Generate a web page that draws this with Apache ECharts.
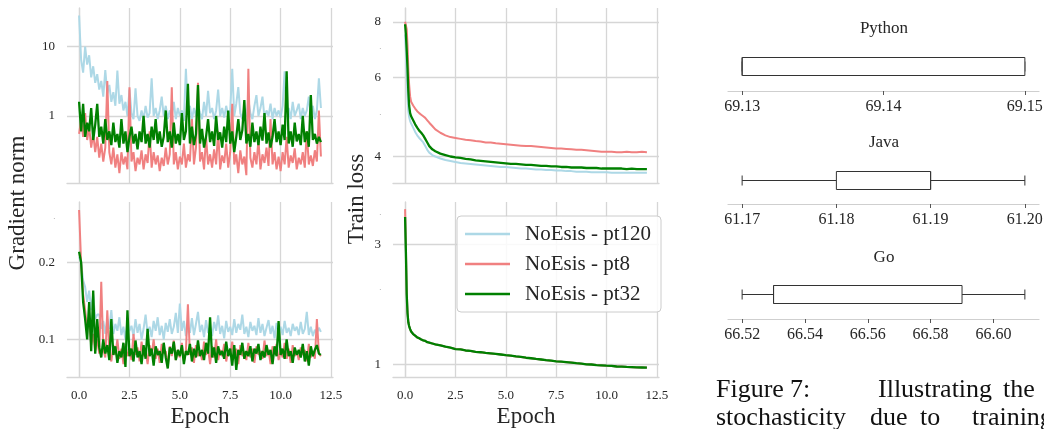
<!DOCTYPE html>
<html>
<head>
<meta charset="utf-8">
<script src="https://cdn.jsdelivr.net/npm/echarts@6/dist/echarts.min.js"></script>
<style>
html,body{margin:0;padding:0;background:#fff;}
#chart{width:1044px;height:429px;}
</style>
</head>
<body>
<div id="chart"></div>
<script>
// ---------------- DATA ----------------
const seriesNames = ['NoEsis - pt120', 'NoEsis - pt8', 'NoEsis - pt32'];
const xTickLabels = [0, 2.5, 5, 7.5, 10, 12.5];

// Gradient-norm x positions (epochs)
const gnEpochs = [0,0.1,0.2,0.3,0.4,0.5,0.6,0.7,0.8,0.9,1,1.1,1.2,1.3,1.4,1.5,1.6,1.7,1.8,1.9,2,2.1,2.2,2.3,2.4,2.5,2.6,2.7,2.8,2.9,3,3.1,3.2,3.3,3.4,3.5,3.6,3.7,3.8,3.9,4,4.1,4.2,4.3,4.4,4.5,4.6,4.7,4.8,4.9,5,5.1,5.2,5.3,5.4,5.5,5.6,5.7,5.8,5.9,6,6.1,6.2,6.3,6.4,6.5,6.6,6.7,6.8,6.9,7,7.1,7.2,7.3,7.4,7.5,7.6,7.7,7.8,7.9,8,8.1,8.2,8.3,8.4,8.5,8.6,8.7,8.8,8.9,9,9.1,9.2,9.3,9.4,9.5,9.6,9.7,9.8,9.9,10,10.1,10.2,10.3,10.4,10.5,10.6,10.7,10.8,10.9,11,11.1,11.2,11.3,11.4,11.5,11.6,11.7,11.8,11.9,12];

// Top-left: gradient norm (log scale, large)
const gnTopPt120 = [28,6.5,4.2,10,5.5,7.5,3.6,5.2,3.0,4.0,
 2.4,3.2,1.9,4.6,2.1,2.8,1.6,2.2,1.4,4.5,
 1.5,2.0,1.2,1.6,1.0,2.4,1.1,0.9,2.5,1.0,
 0.85,1.2,0.9,1.4,0.95,1.1,3.5,1.0,1.3,0.9,
 1.2,1.9,1.0,1.4,0.9,1.2,1.0,1.6,0.9,1.3,
 1.0,1.2,0.85,4.8,1.1,1.4,0.9,1.3,1.0,1.5,
 1.1,0.9,1.6,1.0,2.3,1.1,1.3,0.9,1.2,2.4,
 1.0,1.3,0.95,1.4,1.0,1.2,4.8,1.0,1.5,2.6,
 1.1,0.9,1.3,1.0,1.7,1.1,0.9,1.4,2.0,1.0,
 1.3,1.9,0.95,1.2,1.0,1.5,0.9,1.3,1.0,1.2,
 0.95,1.4,4.4,1.1,1.3,0.9,1.6,1.0,1.2,1.5,
 0.9,1.3,1.0,1.2,1.9,1.0,1.4,0.9,1.2,3.5,
 1.3];
const gnTopPt8 = [0.55,0.9,0.5,1.1,0.45,0.7,0.35,0.55,0.3,0.5,
 0.25,0.4,0.22,0.35,3.2,0.3,0.2,0.35,0.18,0.28,
 0.15,0.3,0.2,0.26,0.17,2.6,0.22,0.3,0.16,0.25,
 0.2,0.32,0.17,0.28,0.21,0.6,0.18,0.3,0.2,0.27,
 0.16,0.25,0.19,0.35,0.2,0.28,2.6,0.2,0.3,0.17,
 0.26,0.2,0.4,0.18,0.28,0.22,0.9,0.2,0.35,3.0,
 0.22,0.3,0.17,0.5,0.2,0.28,0.18,0.33,0.2,0.6,
 0.17,0.27,0.21,0.4,0.18,0.3,1.5,0.2,0.28,0.15,
 0.32,0.2,0.26,0.14,4.8,0.25,0.18,0.3,0.2,0.45,
 0.17,0.28,0.21,0.35,0.19,0.9,0.2,0.3,0.17,0.26,
 0.16,0.3,0.2,0.5,0.18,0.27,0.21,0.34,0.17,0.25,
 0.2,0.3,0.18,0.6,0.2,0.27,0.19,0.32,0.22,1.2,
 0.26];
const gnTopPt32 = [1.6,0.6,1.5,0.5,0.8,0.6,1.3,0.45,0.75,1.5,
 0.5,0.7,0.4,0.9,0.45,0.6,0.38,0.8,0.42,0.55,
 0.35,0.9,0.4,0.6,0.3,0.5,0.7,0.4,0.55,0.33,
 0.6,0.42,1.0,0.4,0.55,0.35,0.7,0.45,0.9,0.4,
 0.6,0.36,0.5,1.2,0.42,0.6,0.35,0.8,0.4,0.55,
 0.38,1.1,0.45,0.6,2.9,0.4,0.7,0.38,0.55,2.8,
 0.4,0.65,0.35,0.5,0.9,0.42,0.6,0.37,1.0,0.45,
 0.58,0.35,0.7,0.42,1.2,0.4,0.6,0.3,0.5,0.9,
 0.45,0.62,1.7,0.4,0.55,0.36,0.8,0.42,0.6,0.38,
 0.7,0.44,1.1,0.4,0.58,0.35,0.5,0.9,0.42,0.6,
 0.38,0.75,0.45,4.4,0.4,0.6,0.36,0.8,0.43,0.55,
 0.38,1.0,0.42,0.6,0.36,2.0,0.45,0.55,0.4,0.5,
 0.42];

// Bottom-left: gradient norm (log scale, small)
const gnBotPt120 = [0.21,0.2,0.17,0.16,0.14,0.155,0.13,0.15,0.12,0.125,
 0.125,0.11,0.118,0.105,0.12,0.11,0.13,0.105,0.115,0.108,
 0.122,0.104,0.112,0.1,0.118,0.108,0.113,0.103,0.12,0.106,
 0.115,0.1,0.11,0.125,0.105,0.112,0.102,0.118,0.108,0.122,
 0.104,0.113,0.1,0.116,0.107,0.12,0.105,0.112,0.127,0.106,
 0.138,0.108,0.118,0.103,0.112,0.106,0.121,0.104,0.115,0.128,
 0.107,0.114,0.102,0.119,0.106,0.112,0.103,0.117,0.108,0.124,
 0.105,0.113,0.101,0.118,0.107,0.112,0.104,0.12,0.106,0.115,
 0.109,0.125,0.105,0.112,0.102,0.117,0.108,0.113,0.104,0.121,
 0.106,0.115,0.103,0.111,0.119,0.105,0.113,0.101,0.116,0.107,
 0.112,0.104,0.118,0.106,0.111,0.103,0.115,0.108,0.112,0.104,
 0.117,0.105,0.11,0.128,0.104,0.112,0.103,0.109,0.106,0.111,
 0.107];
const gnBotPt8 = [0.32,0.2,0.15,0.13,0.11,0.12,0.095,0.105,0.09,0.1,
 0.088,0.168,0.092,0.085,0.13,0.09,0.082,0.095,0.087,0.1,
 0.084,0.092,0.08,0.096,0.086,0.09,0.083,0.105,0.087,0.093,
 0.082,0.098,0.086,0.091,0.08,0.095,0.087,0.1,0.084,0.092,
 0.081,0.096,0.088,0.09,0.078,0.094,0.086,0.099,0.083,0.091,
 0.085,0.097,0.082,0.09,0.137,0.087,0.093,0.081,0.095,0.086,
 0.09,0.083,0.098,0.087,0.092,0.08,0.094,0.085,0.1,0.083,
 0.091,0.086,0.096,0.082,0.09,0.087,0.098,0.084,0.092,0.08,
 0.095,0.086,0.09,0.083,0.097,0.085,0.092,0.081,0.094,0.087,
 0.09,0.084,0.099,0.086,0.091,0.08,0.094,0.087,0.096,0.083,
 0.09,0.085,0.097,0.084,0.092,0.081,0.095,0.086,0.09,0.083,
 0.093,0.087,0.091,0.082,0.096,0.085,0.09,0.084,0.12,0.088,
 0.086];
const gnBotPt32 = [0.22,0.2,0.14,0.12,0.1,0.14,0.09,0.155,0.088,0.12,
 0.093,0.085,0.1,0.088,0.095,0.083,0.12,0.087,0.094,0.081,
 0.09,0.085,0.097,0.078,0.13,0.086,0.092,0.082,0.099,0.085,
 0.09,0.08,0.095,0.084,0.11,0.086,0.092,0.079,0.094,0.087,
 0.09,0.081,0.097,0.085,0.077,0.093,0.088,0.098,0.083,0.091,
 0.086,0.095,0.08,0.09,0.087,0.096,0.082,0.092,0.085,0.099,
 0.086,0.091,0.083,0.097,0.088,0.122,0.085,0.093,0.081,0.094,
 0.087,0.09,0.084,0.098,0.086,0.092,0.079,0.095,0.076,0.091,
 0.087,0.097,0.084,0.09,0.086,0.094,0.082,0.092,0.088,0.096,
 0.083,0.09,0.085,0.095,0.087,0.091,0.08,0.094,0.086,0.118,
 0.087,0.092,0.084,0.1,0.086,0.09,0.081,0.093,0.087,0.091,
 0.085,0.096,0.082,0.09,0.079,0.094,0.086,0.091,0.095,0.088,
 0.087];

// Train-loss x positions (epochs)
const lossEpochs = [0,0.04,0.08,0.12,0.16,0.2,0.25,0.3,0.4,0.5,
 0.6,0.7,0.8,0.9,1,1.1,1.2,1.35,1.5,1.75,
 2,2.25,2.5,2.75,3,3.25,3.5,3.75,4,4.25,
 4.5,4.75,5,5.25,5.5,5.75,6,6.25,6.5,6.75,
 7,7.25,7.5,7.75,8,8.25,8.5,8.75,9,9.25,
 9.5,9.75,10,10.25,10.5,10.75,11,11.25,11.5,11.75,
 12];
// Top-right: train loss
const lossTopPt120 = [7.5,6.9,6.2,5.5,5.05,4.9,4.8,4.74,4.64,4.54,
 4.46,4.4,4.35,4.3,4.22,4.14,4.08,4.03,4.0,3.96,
 3.93,3.91,3.89,3.87,3.86,3.85,3.84,3.83,3.82,3.81,
 3.8,3.79,3.79,3.78,3.77,3.76,3.76,3.75,3.74,3.74,
 3.73,3.73,3.72,3.72,3.71,3.71,3.7,3.7,3.7,3.69,
 3.69,3.69,3.69,3.68,3.68,3.68,3.68,3.68,3.68,3.68,
 3.68];
const lossTopPt8 = [8.0,7.95,7.7,7.1,6.3,5.8,5.45,5.3,5.2,5.12,
 5.05,5.0,4.96,4.92,4.88,4.82,4.76,4.68,4.6,4.52,
 4.46,4.42,4.4,4.38,4.36,4.35,4.33,4.32,4.3,4.3,
 4.28,4.27,4.26,4.25,4.24,4.23,4.22,4.22,4.21,4.2,
 4.19,4.18,4.17,4.17,4.16,4.15,4.14,4.14,4.13,4.12,
 4.11,4.1,4.1,4.1,4.09,4.09,4.1,4.09,4.09,4.1,
 4.09];
const lossTopPt32 = [7.9,7.5,6.9,6.3,5.6,5.2,5.0,4.92,4.82,4.72,
 4.64,4.57,4.52,4.46,4.38,4.3,4.22,4.15,4.11,4.06,
 4.03,4.0,3.98,3.97,3.95,3.94,3.92,3.91,3.9,3.89,
 3.88,3.87,3.86,3.85,3.85,3.84,3.83,3.83,3.82,3.81,
 3.81,3.8,3.8,3.79,3.79,3.78,3.78,3.78,3.77,3.77,
 3.77,3.76,3.76,3.76,3.76,3.76,3.75,3.76,3.75,3.75,
 3.75];
// Bottom-right: train loss
const lossBotPt120 = [3.7,2.75,1.88,1.6,1.47,1.42,1.38,1.35,1.32,1.3,
 1.28,1.27,1.255,1.245,1.24,1.226,1.22,1.21,1.2,1.19,
 1.176,1.165,1.15,1.147,1.136,1.13,1.12,1.117,1.11,1.105,
 1.1,1.094,1.087,1.082,1.076,1.07,1.062,1.057,1.05,1.045,
 1.038,1.034,1.028,1.024,1.02,1.016,1.01,1.006,1.0,0.998,
 0.993,0.99,0.987,0.985,0.98,0.979,0.976,0.974,0.972,0.971,
 0.97];
const lossBotPt8 = [4.15,2.9,1.95,1.62,1.48,1.42,1.38,1.35,1.32,1.3,
 1.28,1.27,1.255,1.245,1.24,1.225,1.22,1.21,1.2,1.19,
 1.175,1.165,1.15,1.147,1.135,1.13,1.12,1.117,1.11,1.105,
 1.1,1.094,1.087,1.082,1.075,1.07,1.062,1.057,1.05,1.045,
 1.038,1.034,1.028,1.024,1.02,1.016,1.01,1.006,1.0,0.998,
 0.993,0.99,0.987,0.985,0.98,0.979,0.976,0.974,0.972,0.971,
 0.97];
const lossBotPt32 = [3.86,2.8,1.9,1.6,1.47,1.42,1.38,1.35,1.32,1.3,
 1.28,1.27,1.255,1.245,1.24,1.225,1.22,1.21,1.2,1.19,
 1.175,1.165,1.15,1.147,1.135,1.13,1.12,1.117,1.11,1.105,
 1.1,1.094,1.087,1.082,1.075,1.07,1.062,1.057,1.05,1.045,
 1.038,1.034,1.028,1.024,1.02,1.016,1.01,1.006,1.0,0.998,
 0.993,0.99,0.987,0.985,0.98,0.979,0.976,0.974,0.972,0.971,
 0.97];

// Box plots: [min, Q1, median, Q3, max]
const boxTitles = ['Python', 'Java', 'Go'];
const pythonBox = [69.13, 69.13, 69.13, 69.15, 69.15];
const javaBox = [61.17, 61.18, 61.19, 61.19, 61.20];
const goBox = [66.52, 66.53, 66.53, 66.59, 66.61];
const pythonTicks = [69.13, 69.14, 69.15];
const javaTicks = [61.17, 61.18, 61.19, 61.20];
const goTicks = [66.52, 66.54, 66.56, 66.58, 66.60];

const captionLine1 = ['Figure', '7:', 'Illustrating', 'the'];
const captionLine2 = ['stochasticity', 'due', 'to', 'training'];

// ---------------- STYLE ----------------
const FONT = "'Liberation Serif','Times New Roman',serif";
const GRID_C = '#d6d6d6';
const TXT = '#262626';
const COL = ['#add8e6', '#f08080', '#008000'];
const LW = [2, 2, 2.3];

function pairs(xs, ys) { return xs.map((x, i) => [x, ys[i]]); }

function lineX(gi, showLabels) {
  return {
    type: 'value', gridIndex: gi, min: -0.6, max: 12.6,
    axisLine: { show: true, lineStyle: { color: GRID_C, width: 1.3 } },
    axisTick: { show: false, customValues: xTickLabels },
    axisLabel: { show: showLabels, customValues: xTickLabels, formatter: v => v.toFixed(1),
      fontFamily: FONT, fontSize: 13, color: TXT, margin: 12 },
    splitLine: { show: true, lineStyle: { color: GRID_C, width: 1.3 } }
  };
}
function logY(gi, min, max, majors, labels) {
  return {
    type: 'log', logBase: 10, gridIndex: gi, min: min, max: max,
    axisLine: { show: true, lineStyle: { color: GRID_C, width: 1.3 } },
    axisTick: { show: false, customValues: majors },
    axisLabel: {
      customValues: labels, fontFamily: FONT, fontSize: 13, color: TXT, margin: 12,
      formatter: v => {
        const m = majors.find(t => Math.abs(t - v) / t < 1e-6);
        return m !== undefined ? String(m) : '{m|.}';
      },
      rich: { m: { fontSize: 6, color: '#777' } }
    },
    splitLine: { show: true, lineStyle: { color: GRID_C, width: 1.3 } },
    minorTick: { show: false }, minorSplitLine: { show: false }
  };
}
function boxX(gi, min, max, ticks) {
  return {
    type: 'value', gridIndex: gi, min: min, max: max,
    axisLine: { show: true, lineStyle: { color: '#cfcfcf', width: 1.2 } },
    axisTick: { show: true, customValues: ticks, length: 4, lineStyle: { color: '#555', width: 1 } },
    axisLabel: { customValues: ticks, formatter: v => v.toFixed(2), fontFamily: FONT, fontSize: 16,
      color: TXT, margin: 8 },
    splitLine: { show: false }
  };
}
function boxY(gi, name) {
  return { type: 'category', gridIndex: gi, data: [name], show: false };
}

const panels = [
  { x: 0, y: 0, data: [gnTopPt120, gnTopPt8, gnTopPt32], xs: gnEpochs },
  { x: 1, y: 1, data: [gnBotPt120, gnBotPt8, gnBotPt32], xs: gnEpochs },
  { x: 2, y: 2, data: [lossTopPt120, lossTopPt8, lossTopPt32], xs: lossEpochs },
  { x: 3, y: 3, data: [lossBotPt120, lossBotPt8, lossBotPt32], xs: lossEpochs }
];
const series = [];
panels.forEach(p => {
  p.data.forEach((ys, k) => {
    series.push({
      type: 'line', name: seriesNames[k], xAxisIndex: p.x, yAxisIndex: p.y,
      data: pairs(p.xs, ys), showSymbol: false, symbol: 'none',
      lineStyle: { color: COL[k], width: LW[k] }, itemStyle: { color: COL[k] },
      silent: true, z: 2 + k
    });
  });
});

// Box plot drawn through the axes' scales (custom series)
const BOX_H = 18, CAP_H = 10, BOX_STROKE = '#333333';
function renderBox(params, api) {
  const c = api.value(5);
  const pMin = api.coord([api.value(0), c]);
  const pQ1 = api.coord([api.value(1), c]);
  const pMed = api.coord([api.value(2), c]);
  const pQ3 = api.coord([api.value(3), c]);
  const pMax = api.coord([api.value(4), c]);
  const cy = Math.round(pMin[1]) + 0.5;
  const st = { stroke: BOX_STROKE, lineWidth: 1, fill: null };
  return {
    type: 'group', children: [
      { type: 'line', shape: { x1: pMin[0], y1: cy, x2: pQ1[0], y2: cy }, style: st },
      { type: 'line', shape: { x1: pQ3[0], y1: cy, x2: pMax[0], y2: cy }, style: st },
      { type: 'line', shape: { x1: pMin[0], y1: cy - CAP_H / 2, x2: pMin[0], y2: cy + CAP_H / 2 }, style: st },
      { type: 'line', shape: { x1: pMax[0], y1: cy - CAP_H / 2, x2: pMax[0], y2: cy + CAP_H / 2 }, style: st },
      { type: 'rect', shape: { x: pQ1[0], y: cy - BOX_H / 2, width: pQ3[0] - pQ1[0], height: BOX_H },
        style: { fill: '#ffffff', stroke: BOX_STROKE, lineWidth: 1 } },
      { type: 'line', shape: { x1: pMed[0], y1: cy - BOX_H / 2, x2: pMed[0], y2: cy + BOX_H / 2 }, style: st }
    ]
  };
}
[pythonBox, javaBox, goBox].forEach((b, i) => {
  series.push({
    type: 'custom', xAxisIndex: 4 + i, yAxisIndex: 4 + i, silent: true,
    data: [b.concat([0])], encode: { x: [0, 1, 2, 3, 4], y: 5 },
    renderItem: renderBox
  });
});

const txt = (text, x, y, size, extra) => Object.assign({
  type: 'text', x: x, y: y, silent: true,
  style: { text: text, fontFamily: FONT, fontSize: size, fill: TXT, align: 'center', verticalAlign: 'middle' }
}, extra || {});

const cap1X = [716, 790, 878, 1003];
const cap2X = [716, 870, 920, 972];
const graphics = [
  txt('Gradient norm', 18, 203, 23, { rotation: Math.PI / 2 }),
  txt('Train loss', 357, 199, 23, { rotation: Math.PI / 2 }),
  txt('Epoch', 200, 417, 23),
  txt('Epoch', 526, 417, 23),
  txt(boxTitles[0], 884, 29, 17),
  txt(boxTitles[1], 884, 143, 17),
  txt(boxTitles[2], 884, 258, 17)
];
captionLine1.forEach((w, i) => {
  const g = txt(w, cap1X[i], 390, 26); g.style.align = 'left'; g.style.fill = '#111'; graphics.push(g);
});
captionLine2.forEach((w, i) => {
  const g = txt(w, cap2X[i], 418, 26); g.style.align = 'left'; g.style.fill = '#111'; graphics.push(g);
});

const option = {
  animation: false,
  backgroundColor: '#ffffff',
  grid: [
    { left: 67, top: 8, width: 266, height: 175, outerBoundsMode: 'none' },
    { left: 67, top: 202, width: 266, height: 175, outerBoundsMode: 'none' },
    { left: 393, top: 8, width: 266, height: 175, outerBoundsMode: 'none' },
    { left: 393, top: 202, width: 266, height: 175, outerBoundsMode: 'none' },
    { left: 728, top: 40, width: 311, height: 51, outerBoundsMode: 'none' },
    { left: 728, top: 156, width: 311, height: 48, outerBoundsMode: 'none' },
    { left: 728, top: 269, width: 311, height: 50, outerBoundsMode: 'none' }
  ],
  xAxis: [
    lineX(0, false), lineX(1, true), lineX(2, false), lineX(3, true),
    boxX(4, 69.129, 69.151, pythonTicks),
    boxX(5, 61.1685, 61.2015, javaTicks),
    boxX(6, 66.5155, 66.6145, goTicks)
  ],
  yAxis: [
    logY(0, 0.108, 36, [1, 10], [1, 10]),
    logY(1, 0.0713, 0.344, [0.1, 0.2], [0.1, 0.2, 0.3]),
    logY(2, 3.49, 8.59, [4, 6, 8], [4, 5, 6, 7, 8]),
    logY(3, 0.89, 4.43, [1, 3], [1, 2, 3, 4]),
    boxY(4, boxTitles[0]), boxY(5, boxTitles[1]), boxY(6, boxTitles[2])
  ],
  legend: {
    show: true, orient: 'vertical', left: 457, top: 216,
    data: seriesNames, selectedMode: false,
    icon: 'path://M0,0H45V2.5H0Z', symbolKeepAspect: true,
    itemWidth: 45, itemHeight: 14, itemGap: 6,
    padding: [6, 10, 6, 8],
    backgroundColor: 'rgba(255,255,255,0.85)',
    borderColor: '#cccccc', borderWidth: 1, borderRadius: 4,
    textStyle: { fontFamily: FONT, fontSize: 21, color: TXT, lineHeight: 24, padding: [0, 0, 0, 10] }
  },
  series: series,
  graphic: graphics
};

const chart = echarts.init(document.getElementById('chart'), null, { renderer: 'canvas' });
chart.setOption(option);
</script>
</body>
</html>
